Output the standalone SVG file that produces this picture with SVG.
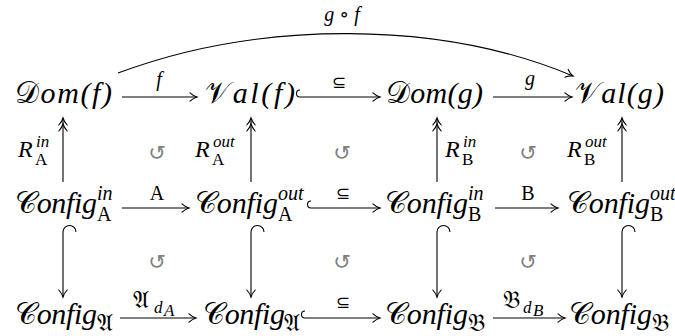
<svg xmlns="http://www.w3.org/2000/svg" width="675" height="336" viewBox="0 0 675 336">
<defs>
<style>
.bg{fill:#fff}
.n{font-family:"Liberation Serif",serif;font-style:italic;font-size:30px;fill:#000}
.cal{font-family:"DejaVu Serif","DejaVu Sans","Noto Sans",serif;font-style:normal}
.s{font-family:"Liberation Serif","DejaVu Serif",serif;font-style:italic;font-size:20px;fill:#000}
.r{font-family:"Liberation Serif","DejaVu Serif",serif;font-style:italic;font-size:24px;fill:#000}
.ss{font-family:"Liberation Serif","DejaVu Serif",serif;font-style:italic;font-size:17px;fill:#000}
.sr{font-family:"Liberation Serif","DejaVu Serif",serif;font-style:normal;font-size:17px;fill:#000}
.lr{font-family:"Liberation Serif","DejaVu Serif",serif;font-style:normal;font-size:20px;fill:#000}
.sub{font-family:"Liberation Serif","DejaVu Serif",serif;font-style:normal;font-size:20px;fill:#000}
.fr{font-family:"DejaVu Serif","DejaVu Sans","Noto Sans",serif;font-style:normal;fill:#000}
.sym{font-family:"DejaVu Sans","Noto Sans",sans-serif;font-size:17px;fill:#000;text-anchor:middle}
.ci{font-family:"DejaVu Sans","Noto Sans",sans-serif;font-size:21px;fill:#808080;text-anchor:middle}
.ln{fill:none;stroke:#000;stroke-width:1.1}
.hd{fill:none;stroke:#000;stroke-width:1.1;stroke-linecap:round}
.mid{text-anchor:middle}
</style>
<marker id="ah" markerUnits="userSpaceOnUse" markerWidth="20" markerHeight="20" refX="0" refY="0" orient="auto" overflow="visible" viewBox="-10 -10 20 20">
<path class="hd" d="M-7,-4.2 C-4.3,-1.7 -1.7,-0.5 0,0 C-1.7,0.5 -4.3,1.7 -7,4.2"/>
</marker>
<marker id="dh" markerUnits="userSpaceOnUse" markerWidth="24" markerHeight="20" refX="0" refY="0" orient="auto" overflow="visible" viewBox="-16 -10 24 20">
<path class="hd" d="M-7,-4.2 C-4.3,-1.7 -1.7,-0.5 0,0 C-1.7,0.5 -4.3,1.7 -7,4.2 M-13,-4.2 C-10.3,-1.7 -7.7,-0.5 -6,0 C-7.7,0.5 -10.3,1.7 -13,4.2"/>
</marker>
</defs>
<rect class="bg" x="0" y="0" width="675" height="336"/>

<g id="connectors">
<!-- row 1 -->
<g id="e-f"><path class="ln" d="M122,97 H197" marker-end="url(#ah)"/><text class="s mid" x="159" y="86">f</text></g>
<g id="e-sub1"><path class="ln" d="M300,90 A3.5,3.5 0 0 0 300,97 H380" marker-end="url(#ah)"/><text class="sym" x="339" y="88">⊆</text></g>
<g id="e-g"><path class="ln" d="M493,97 H572" marker-end="url(#ah)"/><text class="s mid" x="530" y="85">g</text></g>
<g id="e-gf"><path class="ln" d="M118,73 C260,20 440,20 573,76" marker-end="url(#ah)"/><text class="s mid" x="342" y="21">g <tspan font-style="normal">∘</tspan> f</text></g>
<!-- row 2 -->
<g id="e-A"><path class="ln" d="M122,208 H189" marker-end="url(#ah)"/><text class="lr mid" x="157" y="200">A</text></g>
<g id="e-sub2"><path class="ln" d="M311,201 A3.5,3.5 0 0 0 311,208 H380" marker-end="url(#ah)"/><text class="sym" x="343" y="199">⊆</text></g>
<g id="e-B"><path class="ln" d="M495,208 H558" marker-end="url(#ah)"/><text class="lr mid" x="528" y="200">B</text></g>
<!-- row 3 -->
<g id="e-dA"><path class="ln" d="M120,318 H196" marker-end="url(#ah)"/>
<text class="fr" font-size="24" x="133" y="308">𝔄</text><text class="ss" font-size="16" x="154" y="313">d</text><text class="ss" font-size="13" x="164" y="316">A</text></g>
<g id="e-sub3"><path class="ln" d="M305,311 A3.5,3.5 0 0 0 305,318 H380" marker-end="url(#ah)"/><text class="sym" x="343" y="308">⊆</text></g>
<g id="e-dB"><path class="ln" d="M493,318 H565" marker-end="url(#ah)"/>
<text class="fr" font-size="24" x="503" y="308">𝔅</text><text class="ss" font-size="16" x="523" y="313">d</text><text class="ss" font-size="13" x="533" y="316">B</text></g>
<!-- vertical R -->
<g id="e-RinA"><path class="ln" d="M63,182 V118" marker-end="url(#dh)"/>
<text class="r" x="18" y="157">R</text><text class="ss" x="36" y="147">in</text><text class="sr" x="35" y="165">A</text></g>
<g id="e-RoutA"><path class="ln" d="M251,182 V118" marker-end="url(#dh)"/>
<text class="r" x="195" y="157">R</text><text class="ss" x="213" y="147">out</text><text class="sr" x="212" y="165">A</text></g>
<g id="e-RinB"><path class="ln" d="M437,182 V118" marker-end="url(#dh)"/>
<text class="r" x="445" y="157">R</text><text class="ss" x="463" y="147">in</text><text class="sr" x="462" y="165">B</text></g>
<g id="e-RoutB"><path class="ln" d="M622,182 V118" marker-end="url(#dh)"/>
<text class="r" x="567" y="157">R</text><text class="ss" x="585" y="147">out</text><text class="sr" x="584" y="165">B</text></g>
<!-- vertical hooks -->
<g id="e-h1"><path class="ln" d="M76,232 A6.5,6.5 0 0 0 63,232 V297" marker-end="url(#ah)"/></g>
<g id="e-h2"><path class="ln" d="M264,232 A6.5,6.5 0 0 0 251,232 V297" marker-end="url(#ah)"/></g>
<g id="e-h3"><path class="ln" d="M450,232 A6.5,6.5 0 0 0 437,232 V297" marker-end="url(#ah)"/></g>
<g id="e-h4"><path class="ln" d="M635,232 A6.5,6.5 0 0 0 622,232 V297" marker-end="url(#ah)"/></g>
</g>

<g id="commute">
<text class="ci" x="157" y="160">↺</text>
<text class="ci" x="342" y="160">↺</text>
<text class="ci" x="528" y="160">↺</text>
<text class="ci" x="157" y="269">↺</text>
<text class="ci" x="342" y="269">↺</text>
<text class="ci" x="528" y="269">↺</text>
</g>

<g id="domf"><text class="n" x="15" y="103" textLength="97"><tspan class="cal">𝒟</tspan>om(f)</text></g>
<g id="valf"><text class="n" x="205" y="103" textLength="90"><tspan class="cal">𝒱</tspan>al(f)</text></g>
<g id="domg"><text class="n" x="386" y="103" textLength="97"><tspan class="cal">𝒟</tspan>om(g)</text></g>
<g id="valg"><text class="n" x="575" y="103" textLength="89"><tspan class="cal">𝒱</tspan>al(g)</text></g>

<g id="cfgInA"><text class="n" x="15" y="213" textLength="82"><tspan class="cal">𝒞</tspan>onfig</text><text class="s" x="97" y="200">in</text><text class="sub" x="97" y="221">A</text></g>
<g id="cfgOutA"><text class="n" x="195" y="213" textLength="83"><tspan class="cal">𝒞</tspan>onfig</text><text class="s" x="278" y="200">out</text><text class="sub" x="278" y="221">A</text></g>
<g id="cfgInB"><text class="n" x="385" y="213" textLength="83"><tspan class="cal">𝒞</tspan>onfig</text><text class="s" x="468" y="200">in</text><text class="sub" x="468" y="221">B</text></g>
<g id="cfgOutB"><text class="n" x="567" y="213" textLength="83"><tspan class="cal">𝒞</tspan>onfig</text><text class="s" x="650" y="200">out</text><text class="sub" x="650" y="221">B</text></g>

<g id="cfgA1"><text class="n" x="15" y="324" textLength="82"><tspan class="cal">𝒞</tspan>onfig</text><text class="fr" font-size="24" x="97" y="331">𝔄</text></g>
<g id="cfgA2"><text class="n" x="203" y="324" textLength="82"><tspan class="cal">𝒞</tspan>onfig</text><text class="fr" font-size="24" x="284" y="331">𝔄</text></g>
<g id="cfgB1"><text class="n" x="385" y="324" textLength="83"><tspan class="cal">𝒞</tspan>onfig</text><text class="fr" font-size="24" x="468" y="331">𝔅</text></g>
<g id="cfgB2"><text class="n" x="569" y="324" textLength="83"><tspan class="cal">𝒞</tspan>onfig</text><text class="fr" font-size="24" x="652" y="331">𝔅</text></g>
</svg>
